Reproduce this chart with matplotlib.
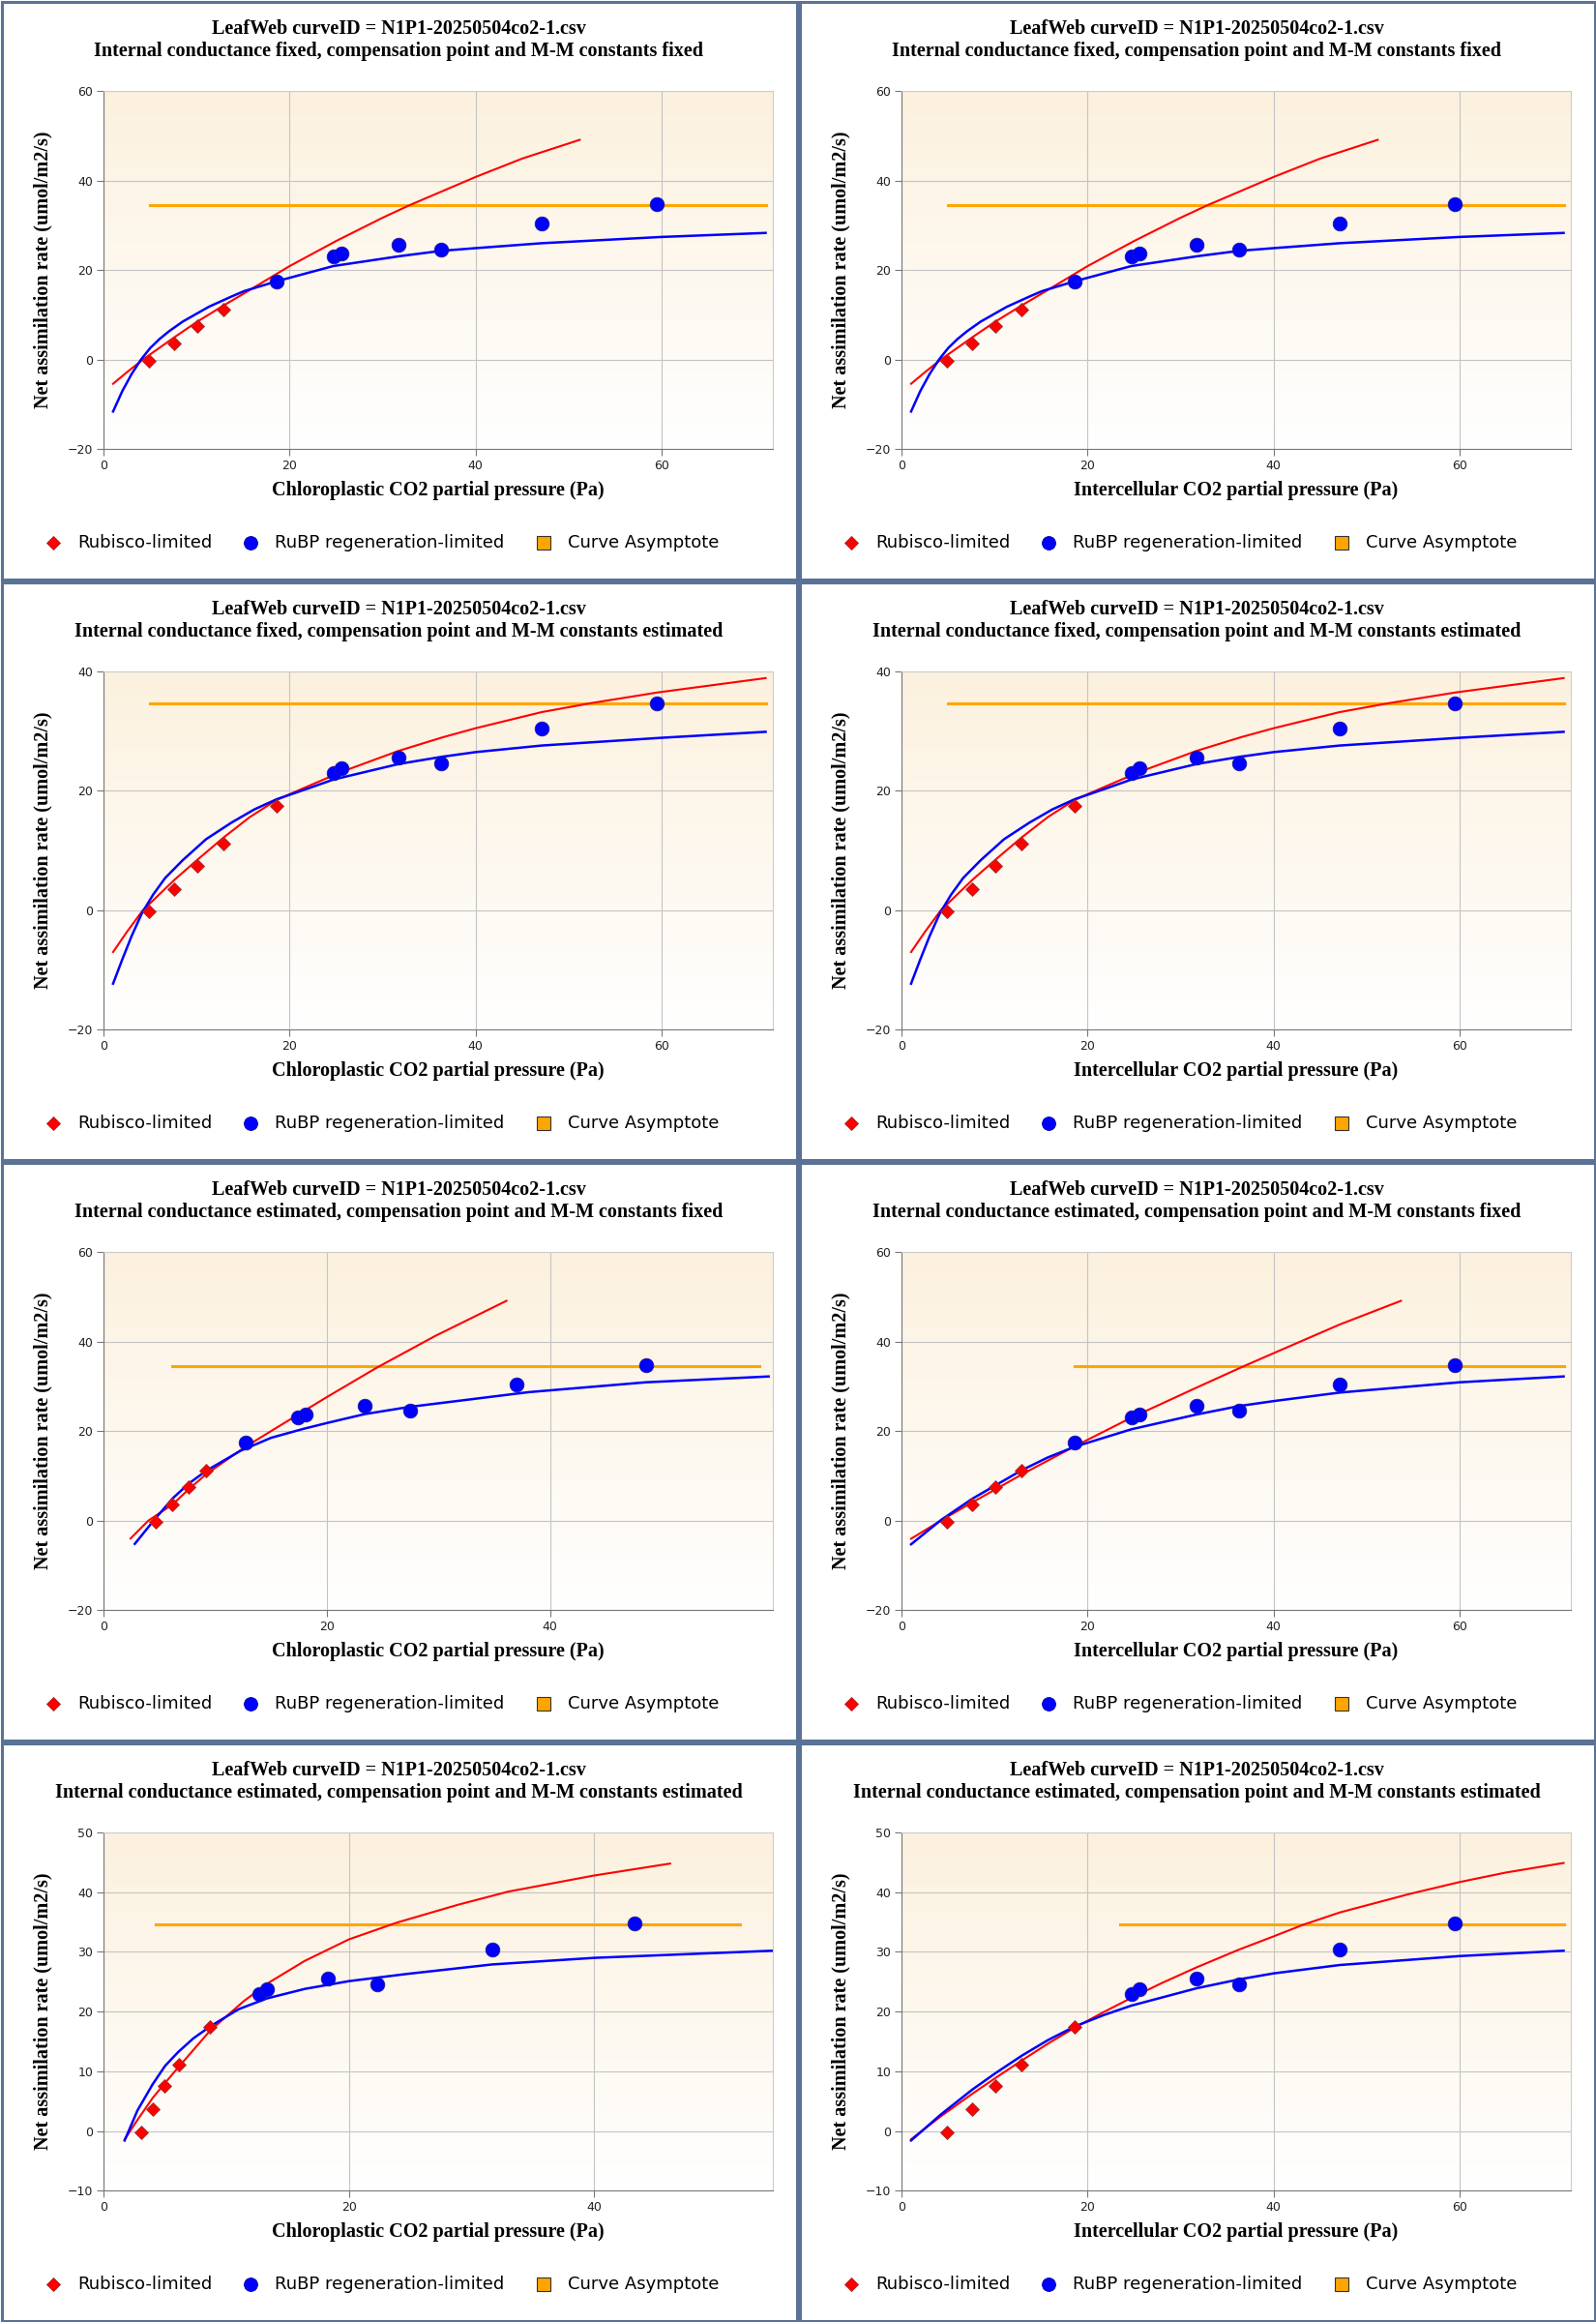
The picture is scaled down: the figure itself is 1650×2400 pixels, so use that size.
import numpy as np
import matplotlib
matplotlib.use("Agg")
import matplotlib.pyplot as plt
from matplotlib.patches import Rectangle
from matplotlib.colors import LinearSegmentedColormap

# measured points (Ci, A) -- same data in every intercellular panel
ci = [4.9, 7.6, 10.1, 12.9, 18.6, 24.7, 25.6, 31.7, 36.3, 47.1, 59.5]
a_net = [-0.2, 3.6, 7.5, 11.1, 17.5, 23.0, 23.8, 25.6, 24.6, 30.4, 34.7]
# chloroplastic pressure when internal conductance is estimated
cc_row3 = [4.65, 6.16, 7.57, 9.2, 12.7, 17.4, 18.1, 23.35, 27.45, 37.0, 48.6]
cc_row4 = [3.07, 3.98, 4.98, 6.1, 8.67, 12.7, 13.3, 18.3, 22.3, 31.7, 43.3]
# how many of the first points are Rubisco-limited, per row
n_rubisco = [4, 5, 4, 5]
asymptote = [34.5, 34.6, 34.5, 34.6]

row_titles = [
    "Internal conductance fixed, compensation point and M-M constants fixed",
    "Internal conductance fixed, compensation point and M-M constants estimated",
    "Internal conductance estimated, compensation point and M-M constants fixed",
    "Internal conductance estimated, compensation point and M-M constants estimated",
]
curve_id = "LeafWeb curveID = N1P1-20250504co2-1.csv"

# fitted curves
r1_rub_x = [1.0, 2.5, 4.2, 7.6, 10.0, 12.9, 15.1, 20.0, 25.0, 30.0, 32.9, 40.0, 45.0, 51.2]
r1_rub_y = [-5.4, -2.8, 0.0, 5.0, 8.4, 12.1, 14.8, 20.9, 26.5, 31.7, 34.5, 40.8, 44.9, 49.1]
r1_j_x = [1.0, 2.0, 3.0, 4.0, 5.0, 6.0, 7.0, 8.5, 11.3, 13.75, 15.1, 18.6, 24.7, 31.8, 36.3, 40.0, 47.1, 60.0, 71.2]
r1_j_y = [-11.6, -7.0, -3.2, 0.0, 2.6, 4.6, 6.3, 8.5, 11.8, 14.1, 15.3, 17.5, 20.9, 23.1, 24.3, 24.9, 26.0, 27.4, 28.3]

r2_rub_x = [1.0, 2.5, 4.2, 7.6, 10.1, 12.9, 15.7, 18.6, 21.7, 25.6, 31.7, 36.5, 40.0, 47.1, 52.4, 59.6, 71.2]
r2_rub_y = [-7.0, -3.6, 0.0, 5.1, 8.5, 12.2, 15.6, 18.5, 20.6, 23.2, 26.7, 29.0, 30.5, 33.2, 34.7, 36.5, 38.9]
r2_j_x = [1.0, 2.0, 3.0, 4.1, 5.3, 6.6, 8.5, 11.0, 13.75, 16.2, 18.6, 21.4, 24.7, 31.7, 36.3, 40.0, 47.1, 60.0, 71.2]
r2_j_y = [-12.3, -8.2, -4.3, -0.5, 2.6, 5.4, 8.4, 11.9, 14.7, 16.9, 18.6, 20.1, 21.9, 24.5, 25.7, 26.5, 27.6, 28.9, 29.9]

r3l_rub_x = [2.4, 4.0, 6.16, 7.57, 9.2, 12.7, 15.0, 17.3, 20.0, 24.5, 29.75, 36.1]
r3l_rub_y = [-4.0, 0.0, 3.6, 6.9, 10.4, 16.5, 20.0, 23.5, 27.6, 34.2, 41.3, 49.1]
r3l_j_x = [2.78, 4.6, 6.19, 7.63, 9.23, 12.26, 15.0, 17.9, 20.0, 23.4, 27.4, 38.1, 48.6, 59.6]
r3l_j_y = [-5.2, 0.4, 5.0, 8.3, 11.2, 15.6, 18.5, 20.5, 21.8, 23.8, 25.4, 28.7, 30.9, 32.2]

r3r_rub_x = [1.0, 4.2, 7.6, 10.1, 12.9, 18.6, 24.7, 31.7, 36.8, 40.0, 47.1, 53.7]
r3r_rub_y = [-4.05, 0.0, 4.1, 7.0, 10.3, 16.6, 23.0, 29.7, 34.5, 37.4, 43.8, 49.1]
r3r_j_x = [1.0, 4.2, 7.6, 10.1, 12.9, 15.7, 18.6, 24.7, 31.7, 36.3, 40.0, 47.1, 60.0, 71.2]
r3r_j_y = [-5.3, 0.1, 4.9, 7.9, 11.25, 14.1, 16.5, 20.4, 23.7, 25.6, 26.7, 28.6, 30.9, 32.2]

r4l_rub_x = [1.7, 2.8, 3.98, 4.98, 6.1, 8.67, 11.45, 13.5, 16.4, 20.0, 23.9, 28.9, 33.0, 40.0, 46.2]
r4l_rub_y = [-1.4, 2.0, 5.5, 8.0, 10.7, 16.8, 21.8, 24.9, 28.5, 32.1, 34.9, 37.9, 40.1, 42.8, 44.8]
r4l_j_x = [1.7, 2.74, 3.98, 5.0, 6.06, 7.3, 8.67, 11.0, 13.3, 16.4, 20.0, 24.7, 31.7, 40.0, 54.6]
r4l_j_y = [-1.6, 3.4, 7.8, 10.9, 13.2, 15.5, 17.5, 20.4, 22.2, 23.8, 25.1, 26.3, 27.9, 29.0, 30.2]

r4r_rub_x = [1.0, 4.16, 7.56, 10.1, 12.9, 15.7, 18.6, 21.7, 24.7, 28.0, 31.7, 36.3, 40.0, 43.1, 47.1, 54.6, 60.0, 65.0, 71.2]
r4r_rub_y = [-1.4, 2.4, 6.2, 8.9, 11.8, 14.6, 17.3, 19.9, 22.3, 24.8, 27.4, 30.4, 32.6, 34.5, 36.6, 39.7, 41.7, 43.3, 44.9]
r4r_j_x = [1.0, 4.16, 7.56, 10.1, 12.9, 15.7, 18.6, 21.7, 24.7, 31.7, 36.3, 40.0, 47.1, 60.0, 71.2]
r4r_j_y = [-1.6, 2.7, 6.9, 9.7, 12.6, 15.2, 17.5, 19.4, 21.0, 23.9, 25.4, 26.4, 27.8, 29.3, 30.2]

# asymptote line extents (x start, x end)
asym_left = [(5.0, 71.2), (5.0, 71.2), (6.16, 58.8), (4.23, 51.9)]
asym_right = [(5.0, 71.2), (5.0, 71.2), (18.6, 71.2), (23.5, 71.2)]

y_limits = [(-20, 60), (-20, 40), (-20, 60), (-10, 50)]
y_steps = [20, 20, 20, 10]
x_max_left = [72, 72, 60, 54.6]

panels = [
    # row, col, x data, rubisco curve, rubp curve, asymptote extent, xmax, x label
    (0, 0, ci, (r1_rub_x, r1_rub_y), (r1_j_x, r1_j_y), asym_left[0], x_max_left[0], "Chloroplastic"),
    (0, 1, ci, (r1_rub_x, r1_rub_y), (r1_j_x, r1_j_y), asym_right[0], 72, "Intercellular"),
    (1, 0, ci, (r2_rub_x, r2_rub_y), (r2_j_x, r2_j_y), asym_left[1], x_max_left[1], "Chloroplastic"),
    (1, 1, ci, (r2_rub_x, r2_rub_y), (r2_j_x, r2_j_y), asym_right[1], 72, "Intercellular"),
    (2, 0, cc_row3, (r3l_rub_x, r3l_rub_y), (r3l_j_x, r3l_j_y), asym_left[2], x_max_left[2], "Chloroplastic"),
    (2, 1, ci, (r3r_rub_x, r3r_rub_y), (r3r_j_x, r3r_j_y), asym_right[2], 72, "Intercellular"),
    (3, 0, cc_row4, (r4l_rub_x, r4l_rub_y), (r4l_j_x, r4l_j_y), asym_left[3], x_max_left[3], "Chloroplastic"),
    (3, 1, ci, (r4r_rub_x, r4r_rub_y), (r4r_j_x, r4r_j_y), asym_right[3], 72, "Intercellular"),
]

W, H = 1650, 2400
PW, PH = 825, 600
RED = "#ff0000"
BLUE = "#0000ff"
ORANGE = "#ffa500"
BORDER = "#5a7296"
serif = "Liberation Serif"
TFS = 14.5

grad = LinearSegmentedColormap.from_list("bg", ["#ffffff", "#fcf1de"])

fig = plt.figure(figsize=(W / 100, H / 100), dpi=100)

for row, col, xs, rub, rubp, asym, xmax, kind in panels:
    ox, oy = col * PW, row * PH
    # overlay covering the whole panel, in pixel units
    ov = fig.add_axes([ox / W, 1 - (oy + PH) / H, PW / W, PH / H])
    ov.set_xlim(0, PW)
    ov.set_ylim(PH, 0)
    ov.axis("off")
    ov.add_patch(Rectangle((1.5, 1.5), PW - 3, PH - 3, fill=False,
                           edgecolor=BORDER, lw=2.2, clip_on=False))
    ov.text(412, 30, curve_id, ha="center", va="center", family=serif,
            weight="bold", fontsize=TFS)
    ov.text(412, 53, row_titles[row], ha="center", va="center", family=serif,
            weight="bold", fontsize=TFS)
    ov.text(44, 279, "Net assimilation rate (umol/m2/s)", ha="center", va="center",
            rotation=90, family=serif, weight="bold", fontsize=TFS)
    ov.text(453, 507, kind + " CO2 partial pressure (Pa)", ha="center", va="center",
            family=serif, weight="bold", fontsize=TFS)

    # legend
    ov.plot([55], [561], marker="D", ms=7, color=RED, mec="#aa2222", mew=0.6, ls="none")
    ov.text(80, 561, "Rubisco-limited", va="center", fontsize=13, family="DejaVu Sans")
    ov.plot([259], [561], marker="o", ms=10, color=BLUE, mec="#0000aa", mew=0.6, ls="none")
    ov.text(284, 561, "RuBP regeneration-limited", va="center", fontsize=13, family="DejaVu Sans")
    ov.plot([562], [561], marker="s", ms=10, color=ORANGE, mec="#333333", mew=0.8, ls="none")
    ov.text(587, 561, "Curve Asymptote", va="center", fontsize=13, family="DejaVu Sans")

    # the chart itself
    ax = fig.add_axes([(ox + 107.3) / W, 1 - (oy + 464.2) / H, 691.9 / W, 370.1 / H])
    ax.imshow(np.linspace(0, 1, 256).reshape(-1, 1), cmap=grad, origin="lower",
              extent=(0, 1, 0, 1), transform=ax.transAxes, aspect="auto", zorder=0)
    y0, y1 = y_limits[row]
    ax.set_xlim(0, xmax)
    ax.set_ylim(y0, y1)
    ax.set_xticks([t for t in range(0, 80, 20) if t < xmax - 0.5])
    ax.set_yticks(np.arange(y0, y1 + 1, y_steps[row]))
    ax.grid(True, color="#c4c4c4", lw=0.8, zorder=1)
    ax.set_axisbelow(True)
    for side in ("top", "right"):
        ax.spines[side].set_color("#cccccc")
    for side in ("left", "bottom"):
        ax.spines[side].set_color("#777777")
    ax.tick_params(direction="out", length=5, width=0.8, color="#777777",
                   labelsize=9, labelcolor="#222222", pad=3)

    ax.plot(asym, [asymptote[row]] * 2, color=ORANGE, lw=2.2, zorder=3)
    ax.plot(rub[0], rub[1], color=RED, lw=1.5, zorder=4)
    ax.plot(rubp[0], rubp[1], color=BLUE, lw=1.8, zorder=4)

    n = n_rubisco[row]
    ax.plot(xs[:n], a_net[:n], marker="D", ms=7.5, color=RED, mec="#993333",
            mew=0.6, ls="none", zorder=5)
    ax.plot(xs[n:], a_net[n:], marker="o", ms=10.5, color=BLUE, mec="#1a1a99",
            mew=0.6, ls="none", zorder=5)

fig.savefig("out.png", dpi=100)
